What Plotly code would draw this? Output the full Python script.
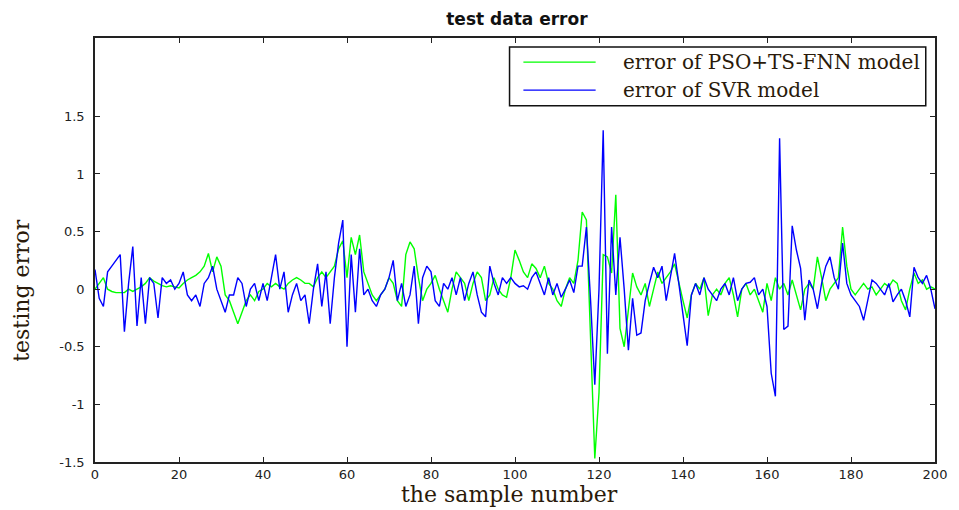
import plotly.graph_objects as go

samples = list(range(0, 201))

svr_error = [
    # 0-19
    0.17, -0.08, -0.15, 0.15, 0.2, 0.25, 0.3, -0.37, 0.05, 0.37,
    -0.32, 0.1, -0.3, 0.1, 0.05, -0.25, 0.1, 0.05, 0.08, 0.0,
    # 20-39
    0.05, 0.15, -0.05, -0.1, -0.05, -0.15, 0.05, 0.1, 0.2, 0.0,
    -0.1, -0.2, -0.05, -0.05, 0.1, 0.05, -0.15, 0.0, 0.05, -0.1,
    # 40-59
    0.05, -0.1, 0.1, 0.3, 0.0, 0.15, -0.2, -0.05, 0.05, -0.1,
    -0.05, -0.3, 0.0, 0.22, -0.15, 0.15, -0.3, 0.1, 0.4, 0.6,
    # 60-79
    -0.5, 0.3, -0.2, 0.35, -0.05, 0.0, -0.1, -0.15, -0.05, 0.0,
    0.1, 0.25, -0.1, 0.05, -0.15, -0.05, 0.2, -0.3, 0.1, 0.2,
    # 80-99
    0.15, -0.1, -0.15, 0.05, 0.0, 0.1, -0.05, 0.1, -0.1, 0.05,
    0.15, -0.05, -0.2, -0.24, 0.2, 0.05, -0.05, 0.1, 0.05, 0.1,
    # 100-119
    0.05, 0.02, 0.03, 0.0, 0.1, 0.15, 0.05, -0.05, 0.1, -0.05,
    0.05, -0.07, 0.0, 0.08, -0.03, 0.2, 0.2, 0.54, -0.1, -0.83,
    # 120-139
    0.0, 1.38, -0.56, 0.54, -0.05, 0.45, 0.0, -0.53, -0.08, -0.4,
    -0.38, -0.1, 0.05, 0.19, 0.1, 0.2, -0.1, 0.1, 0.31, 0.05,
    # 140-159
    -0.2, -0.49, -0.05, 0.05, -0.05, 0.1, 0.0, -0.05, -0.1, 0.0,
    0.05, -0.05, 0.1, -0.1, 0.0, 0.05, 0.06, 0.1, -0.05, 0.0,
    # 160-179
    -0.15, -0.73, -0.93, 1.31, -0.35, -0.32, 0.55, 0.34, 0.18, -0.27,
    0.08, 0.0, -0.17, 0.05, 0.2, 0.28, 0.1, 0.0, 0.4, 0.05,
    # 180-200
    -0.05, -0.1, -0.15, -0.27, -0.1, 0.08, 0.05, 0.0, -0.05, 0.05,
    -0.11, -0.05, 0.0, -0.1, -0.24, 0.19, 0.1, 0.05, 0.12, 0.0,
    -0.17,
]

pso_error = [
    # 0-19
    0.0, 0.05, 0.1, 0.0, -0.02, -0.03, -0.03, -0.03, 0.0, -0.02,
    0.0, 0.02, 0.05, 0.1, 0.07, 0.05, 0.03, 0.02, 0.03, 0.02,
    # 20-39
    0.01, 0.05, 0.08, 0.1, 0.12, 0.15, 0.2, 0.31, 0.15, 0.28,
    0.2, -0.05, -0.1, -0.2, -0.3, -0.2, -0.1, -0.05, -0.1, -0.02,
    # 40-59
    0.0, 0.05, 0.02, 0.05, 0.02, 0.0, 0.05, 0.08, 0.1, 0.08,
    0.05, 0.05, 0.02, 0.1, 0.15, 0.1, 0.15, 0.2, 0.35, 0.42,
    # 60-79
    0.1, 0.45, 0.3, 0.47, 0.15, 0.05, -0.05, -0.1, -0.05, 0.0,
    0.1, 0.05, -0.1, -0.15, 0.3, 0.41, 0.35, 0.1, -0.1, 0.0,
    # 80-99
    0.05, 0.12, 0.0, -0.1, -0.2, 0.0, 0.15, 0.1, 0.05, -0.1,
    0.05, 0.15, 0.1, -0.1, -0.05, 0.1, 0.0, -0.05, -0.07, 0.1,
    # 100-119
    0.34, 0.25, 0.15, 0.1, 0.22, 0.18, 0.1, 0.2, 0.05, 0.0,
    -0.1, -0.15, 0.0, 0.1, 0.05, 0.25, 0.67, 0.6, -0.44, -1.47,
    # 120-139
    -0.9, 0.3, 0.28, 0.14, 0.82, -0.34, -0.5, -0.15, 0.14, 0.02,
    -0.05, 0.05, -0.15, 0.0, 0.15, 0.05, 0.1, 0.15, 0.22, 0.05,
    # 140-159
    -0.1, -0.25, -0.05, 0.05, 0.0, 0.1, -0.23, -0.05, 0.0, -0.05,
    0.05, 0.1, -0.05, -0.24, 0.0, 0.05, -0.05, 0.0, -0.1, -0.2,
    # 160-179
    0.05, -0.1, 0.1, 0.0, 0.05, -0.05, 0.08, -0.05, -0.18, 0.0,
    0.05, 0.0, 0.28, 0.1, -0.1, 0.0, 0.05, 0.1, 0.54, 0.2,
    # 180-200
    0.0, -0.05, 0.0, 0.05, 0.0, 0.02, -0.05, 0.0, 0.05, 0.02,
    0.08, 0.05, -0.1, -0.18, 0.0, 0.14, 0.05, 0.08, 0.0, 0.02,
    0.0,
]

series_names = ["error of PSO+TS-FNN model", "error of SVR model"]
series_colors = ["#00ff00", "#0000ff"]

x_ticks = [0, 20, 40, 60, 80, 100, 120, 140, 160, 180, 200]
y_ticks = [-1.5, -1, -0.5, 0, 0.5, 1, 1.5]
y_tick_text = ["-1.5", "-1", "-0.5", "0", "0.5", "1", "1.5"]

fig = go.Figure()
for name, vals, col in zip(series_names, [pso_error, svr_error], series_colors):
    fig.add_trace(go.Scatter(
        x=samples, y=vals, mode="lines", name=name,
        line=dict(color=col, width=1.4), showlegend=False,
    ))

axis_common = dict(
    showline=True, linecolor="#222", linewidth=1.5, mirror="ticks",
    ticks="inside", ticklen=5, tickcolor="#222", tickwidth=1,
    showgrid=False, zeroline=False,
    tickfont=dict(family="DejaVu Sans", size=13, color="#222"),
)

serif = "DejaVu Serif"
text_col = "#2a1a0a"

# manual legend (box, sample lines, labels) in paper coordinates
shapes = [
    dict(type="rect", xref="paper", yref="paper", x0=0.4935, x1=0.989, y0=0.840, y1=0.979,
         line=dict(color="#111", width=1.5), fillcolor="white", layer="above"),
]
annotations = []
for i, (name, col) in enumerate(zip(series_names, series_colors)):
    yy = 0.943 - i * 0.066
    shapes.append(dict(type="line", xref="paper", yref="paper", x0=0.510, x1=0.596,
                       y0=yy, y1=yy, line=dict(color=col, width=1.4), layer="above"))
    annotations.append(dict(text=name, xref="paper", yref="paper", x=0.626, y=yy,
                            xanchor="left", yanchor="middle", showarrow=False,
                            font=dict(family=serif, size=20, color=text_col)))

annotations.append(dict(text="testing error", xref="paper", yref="paper", x=-0.087, y=0.406,
                        xanchor="center", yanchor="middle", textangle=-90, showarrow=False,
                        font=dict(family=serif, size=22, color=text_col)))
annotations.append(dict(text="the sample number", xref="paper", yref="paper", x=0.4935, y=-0.0425,
                        xanchor="center", yanchor="top", showarrow=False,
                        font=dict(family=serif, size=22, color=text_col)))

fig.update_layout(
    width=959, height=510,
    margin=dict(l=95, r=21, t=38, b=48),
    paper_bgcolor="white", plot_bgcolor="white",
    title=dict(text="<b>test data error</b>", x=0.539, xanchor="center", y=0.963, yanchor="middle",
               font=dict(family="DejaVu Sans", size=17, color="#111")),
    xaxis=dict(range=[0, 200], tickvals=x_ticks, **axis_common),
    yaxis=dict(range=[-1.5, 2.18], tickvals=y_ticks, ticktext=y_tick_text,
               ticklabelstandoff=6, **axis_common),
    shapes=shapes,
    annotations=annotations,
    showlegend=False,
)

fig.write_html("out.html")
